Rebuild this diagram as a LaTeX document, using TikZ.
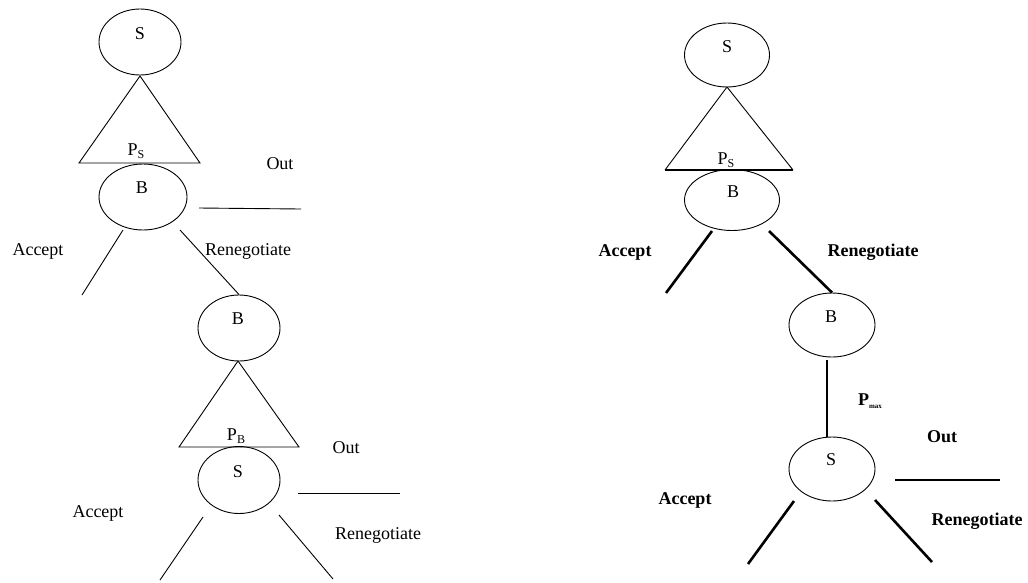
\documentclass[tikz,border=0pt]{standalone}
\usepackage{fontspec}
\setmainfont{Liberation Serif}
\usetikzlibrary{shapes.geometric}
\begin{document}
\begin{tikzpicture}[x=1pt,y=-1pt,
  ell/.style={draw, ellipse, line width=0.9pt, inner sep=0pt},
  lbl/.style={font=\fontsize{18}{20}\selectfont, inner sep=0pt},
  blbl/.style={font=\fontsize{18}{20}\selectfont\bfseries, inner sep=0pt},
  thinln/.style={line width=0.9pt},
  boldln/.style={line width=2.6pt},
  midln/.style={line width=1.8pt}]
\useasboundingbox (0,0) rectangle (1028,582);
\newcommand{\Psub}[1]{P\raisebox{-0.35ex}{\fontsize{12}{12}\selectfont #1}}

% ---------- left tree ----------
\node[ell, minimum width=82, minimum height=66] (ls1) at (140,42) {};
\node[lbl] (ls1t) at (140,34) {S};
\coordinate (lt1a) at (140,76);
\coordinate (lt1l) at (79,163);
\coordinate (lt1r) at (200,163);
\draw[thinln] (lt1a) -- (lt1l) -- (lt1r) -- cycle;
\node[lbl] (lps) at (136,151) {\Psub{S}};
\node[ell, minimum width=88, minimum height=66] (lb1) at (143,197) {};
\node[lbl] (lb1t) at (142,188) {B};
\node[lbl] (lout1) at (280,164) {Out};
\coordinate (lo1a) at (199,208);
\coordinate (lo1b) at (301,209);
\draw[thinln] (lo1a) -- (lo1b);
\node[lbl] (lacc1) at (38,251) {Accept};
\node[lbl] (lren1) at (248,251) {Renegotiate};
\coordinate (la1) at (123,230);
\coordinate (la1e) at (82,295);
\draw[thinln] (la1) -- (la1e);
\coordinate (lr1) at (180,230);

\node[ell, minimum width=82, minimum height=66] (lb2) at (239,328) {};
\node[lbl] (lb2t) at (238,319) {B};
\draw[thinln] (lr1) -- (lb2.north);
\coordinate (lt2a) at (238,361);
\coordinate (lt2l) at (179,447);
\coordinate (lt2r) at (299,447);
\draw[thinln] (lt2a) -- (lt2l) -- (lt2r) -- cycle;
\node[lbl] (lpb) at (236,436) {\Psub{B}};
\node[ell, minimum width=82, minimum height=67] (ls2) at (239,480) {};
\node[lbl] (ls2t) at (238,472) {S};
\node[lbl] (lout2) at (346,448) {Out};
\coordinate (lo2a) at (298,493);
\coordinate (lo2b) at (400,493);
\draw[thinln] (lo2a) -- (lo2b);
\node[lbl] (lacc2) at (98,513) {Accept};
\node[lbl] (lren2) at (378,535) {Renegotiate};
\coordinate (la2) at (203,517);
\coordinate (la2e) at (160,580);
\draw[thinln] (la2) -- (la2e);
\coordinate (lr2) at (279,515);
\coordinate (lr2e) at (333,579);
\draw[thinln] (lr2) -- (lr2e);

% ---------- right tree ----------
\node[ell, minimum width=85, minimum height=64] (rs1) at (727,55) {};
\node[lbl] (rs1t) at (727,47) {S};
\coordinate (rt1a) at (727,87);
\coordinate (rt1l) at (665,170);
\coordinate (rt1r) at (793,170);
\draw[thinln] (rt1l) -- (rt1a) -- (rt1r);
\draw[midln] (rt1l) -- (rt1r);
\node[lbl] (rps) at (726,160) {\Psub{S}};
\node[ell, minimum width=95, minimum height=61] (rb1) at (732,200) {};
\node[lbl] (rb1t) at (733,192) {B};
\node[blbl] (racc1) at (625,252) {Accept};
\node[blbl] (rren1) at (873,252) {Renegotiate};
\coordinate (ra1) at (712,231);
\coordinate (ra1e) at (666,293);
\draw[boldln] (ra1) -- (ra1e);
\coordinate (rr1) at (769,231);

\node[ell, minimum width=86, minimum height=64] (rb2) at (832,325) {};
\node[lbl] (rb2t) at (831,317) {B};
\draw[boldln] (rr1) -- (rb2.north);
\coordinate (rv1) at (827,360);
\draw[midln] (rv1) -- (rv1 |- 0,437);
\node[blbl] (rpmax) at (870,401) {P\raisebox{-0.4ex}{\fontsize{7}{7}\selectfont max}};
\node[ell, minimum width=86, minimum height=64] (rs2) at (832,469) {};
\node[lbl] (rs2t) at (831,460) {S};
\node[blbl] (rout) at (942,437) {Out};
\coordinate (ro1) at (895,480);
\coordinate (ro1e) at (1000,480);
\draw[midln] (ro1) -- (ro1e);
\node[blbl] (racc2) at (685,500) {Accept};
\node[blbl] (rren2) at (977,521) {Renegotiate};
\coordinate (ra2) at (794,501);
\coordinate (ra2e) at (748,564);
\draw[boldln] (ra2) -- (ra2e);
\coordinate (rr2) at (875,500);
\coordinate (rr2e) at (932,562);
\draw[boldln] (rr2) -- (rr2e);
\end{tikzpicture}
\end{document}
